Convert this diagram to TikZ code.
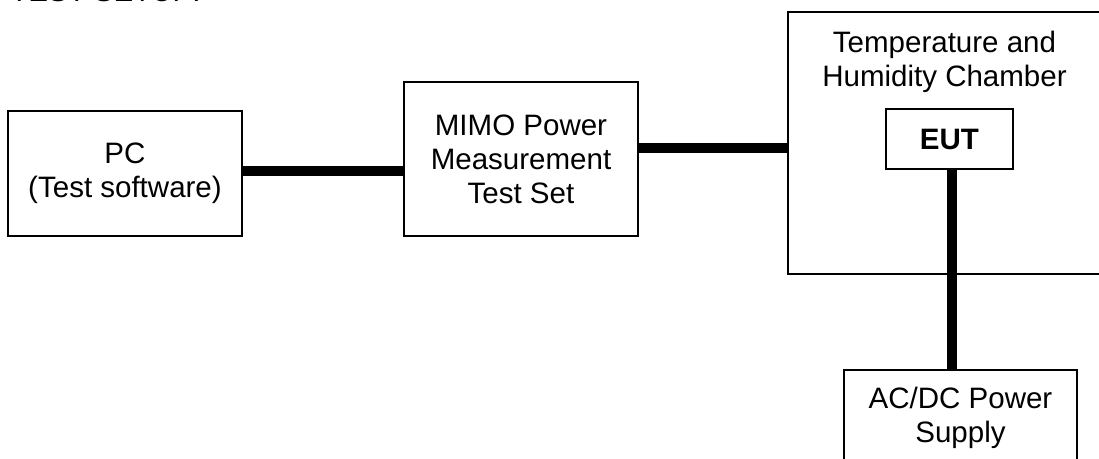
\documentclass[tikz,border=0pt]{standalone}
\usepackage{fontspec}
\setmainfont{Liberation Sans}
\usetikzlibrary{positioning,calc}

\begin{document}
\begin{tikzpicture}[x=0.02cm,y=-0.02cm,
        unit/.style={draw=black,line width=0.7pt,inner sep=0pt,align=center,font=\fontsize{16.8}{19.4}\selectfont},
        cable/.style={draw=black,line width=6pt}]
        \useasboundingbox (0,0) rectangle (1099,459);
        % title, cut off at the top of the page
        \node[anchor=base west,inner sep=0pt,font=\fontsize{16.8}{19.4}\selectfont] (title) at (10,2) {TEST SETUP:};
        \node[unit,minimum width=4.68cm,minimum height=2.5cm] (pc) at (125,173.5) {PC\\(Test software)};
        \node[unit,minimum width=4.68cm,minimum height=3.08cm] (mimo) at (521,159) {MIMO Power\\Measurement\\Test Set};
        \node[unit,minimum width=6.26cm,minimum height=5.24cm] (chamber) at (944.5,143) {};
        \node[anchor=north,inner sep=0pt,align=center,font=\fontsize{16.8}{19.4}\selectfont] (chambertxt) at ([yshift=-0.38cm]chamber.north) {Temperature and\\Humidity Chamber};
        \node[unit,minimum width=2.54cm,minimum height=1.2cm,font=\fontsize{16.8}{19.4}\selectfont\bfseries] (eut) at (949.5,139) {EUT};
        \node[unit,minimum width=4.66cm,minimum height=1.92cm] (psu) at (960.5,418) {AC/DC Power\\Supply};
        \draw[cable] ([yshift=0.05cm]pc.east) -- ([yshift=0.05cm]pc.east -| mimo.west);
        \draw[cable] ([yshift=0.22cm]mimo.east) -- ([yshift=0.22cm]mimo.east -| chamber.west);
        \draw[cable] ([xshift=0.05cm]eut.south) -- ([xshift=0.05cm]eut.south |- psu.north);
\end{tikzpicture}
\end{document}
